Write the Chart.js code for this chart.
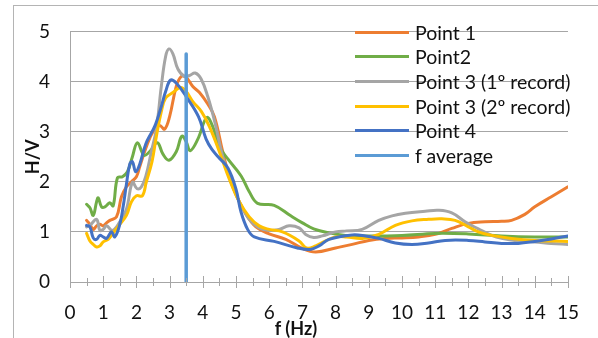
<!DOCTYPE html>
<html>
<head>
<meta charset="utf-8">
<script src="https://cdn.jsdelivr.net/npm/chart.js@4/dist/chart.umd.min.js"></script>
<style>
    body { margin: 0; background: #fff; }
    #wrap { position: relative; width: 598px; height: 338px; overflow: hidden; font-family: 'Lato', sans-serif; }
    #frame { position: absolute; left: 13px; top: 5px; width: 700px; height: 400px; border-left: 1px solid #b4b4b4; border-top: 1px solid #b4b4b4; }
    #hv { position: absolute; left: 0; top: 0; }
    #legend { position: absolute; left: 355px; top: 20px; }
    .row { height: 24.6px; display: flex; align-items: center; }
    .swatch { width: 54px; height: 3px; margin-right: 6px; }
    .label { font-size: 19.5px; color: #111; white-space: nowrap; }
    #xtitle { position: absolute; left: 296px; top: 328px; transform: translate(-50%, -50%); font-size: 18px; font-weight: bold; color: #111; }
</style>
</head>
<body>
<div id="wrap">
    <div id="frame"></div>
    <canvas id="hv" width="598" height="338"></canvas>
    <div id="legend"></div>
    <div id="xtitle">f (Hz)</div>
</div>
<script>
// Series: [f, H/V]
const point1 = [
    [0.5, 1.23], [0.6, 1.15], [0.7, 1.05], [0.8, 1.12], [0.9, 1.15], [1.0, 1.12], [1.1, 1.18], [1.2, 1.23],
    [1.4, 1.3], [1.55, 1.7], [1.7, 1.9], [1.85, 2.0], [2.0, 2.1], [2.1, 2.3], [2.3, 2.7], [2.5, 3.0],
    [2.7, 3.12], [2.85, 3.05], [3.0, 3.3], [3.2, 3.9], [3.35, 4.1], [3.5, 4.08], [3.7, 3.9], [3.9, 3.78],
    [4.15, 3.55], [4.35, 3.3], [4.6, 2.6], [4.8, 2.1], [5.0, 1.75], [5.3, 1.35], [5.6, 1.1], [6.0, 0.96],
    [6.5, 0.85], [7.0, 0.67], [7.4, 0.6], [8.0, 0.68], [8.5, 0.75], [9.0, 0.83], [9.5, 0.87], [10.0, 0.88],
    [10.5, 0.9], [11.0, 0.95], [11.5, 1.07], [12.0, 1.17], [12.5, 1.2], [13.0, 1.21], [13.3, 1.23],
    [13.7, 1.35], [14.0, 1.5], [14.5, 1.7], [15.0, 1.9]
];
const point2 = [
    [0.5, 1.55], [0.6, 1.48], [0.7, 1.33], [0.8, 1.6], [0.85, 1.68], [0.95, 1.5], [1.05, 1.5], [1.2, 1.58],
    [1.3, 1.52], [1.43, 2.08], [1.58, 2.1], [1.73, 2.2], [1.88, 2.5], [2.03, 2.78], [2.23, 2.53], [2.4, 2.6],
    [2.63, 2.78], [2.8, 2.55], [2.98, 2.43], [3.2, 2.6], [3.37, 2.91], [3.5, 2.8], [3.62, 2.62], [3.85, 2.85],
    [4.12, 3.28], [4.3, 3.1], [4.5, 2.7], [4.76, 2.45], [5.15, 2.12], [5.4, 1.8], [5.65, 1.57], [6.15, 1.53],
    [6.65, 1.32], [7.0, 1.18], [7.34, 1.06], [7.8, 0.98], [8.3, 0.93], [9.0, 0.92], [10.0, 0.93], [11.0, 0.97],
    [12.0, 0.96], [13.0, 0.92], [14.0, 0.9], [15.0, 0.9]
];
const point3a = [
    [0.5, 1.1], [0.6, 1.13], [0.8, 1.25], [0.9, 1.03], [1.0, 1.05], [1.1, 1.12], [1.28, 1.03], [1.5, 1.2],
    [1.7, 1.45], [1.88, 1.99], [2.02, 1.86], [2.15, 1.9], [2.28, 2.1], [2.45, 2.6], [2.6, 3.05], [2.75, 3.9],
    [2.88, 4.5], [2.98, 4.65], [3.1, 4.55], [3.25, 4.25], [3.45, 4.1], [3.6, 4.12], [3.77, 4.17], [3.95, 4.05],
    [4.15, 3.7], [4.37, 3.17], [4.6, 2.5], [4.85, 2.0], [5.1, 1.6], [5.4, 1.25], [5.7, 1.08], [6.0, 1.03],
    [6.3, 1.05], [6.6, 1.12], [6.9, 1.08], [7.1, 0.95], [7.34, 0.89], [7.6, 0.92], [8.0, 1.0], [8.33, 1.02],
    [8.8, 1.05], [9.3, 1.23], [9.7, 1.32], [10.1, 1.37], [10.7, 1.41], [11.1, 1.43], [11.5, 1.38], [11.9, 1.2],
    [12.3, 1.06], [12.7, 0.93], [13.0, 0.87], [13.5, 0.82], [14.0, 0.8], [14.5, 0.77], [15.0, 0.75]
];
const point3b = [
    [0.5, 0.97], [0.6, 0.82], [0.7, 0.75], [0.8, 0.7], [0.9, 0.72], [1.0, 0.8], [1.15, 0.85], [1.28, 0.96],
    [1.5, 1.15], [1.7, 1.33], [1.85, 1.6], [2.0, 1.72], [2.18, 1.72], [2.3, 2.0], [2.47, 2.4], [2.6, 2.9],
    [2.75, 3.4], [2.88, 3.67], [3.1, 3.78], [3.33, 3.88], [3.5, 3.8], [3.7, 3.6], [3.96, 3.4], [4.2, 3.1],
    [4.5, 2.6], [4.8, 2.05], [5.1, 1.6], [5.4, 1.3], [5.7, 1.12], [6.0, 1.05], [6.4, 1.0], [6.9, 0.82],
    [7.12, 0.68], [7.4, 0.72], [7.7, 0.82], [8.0, 0.9], [8.33, 0.9], [8.8, 0.87], [9.3, 0.95], [9.8, 1.13],
    [10.3, 1.22], [10.8, 1.25], [11.2, 1.26], [11.6, 1.23], [12.0, 1.1], [12.3, 1.0], [12.7, 0.93],
    [13.3, 0.87], [14.0, 0.83], [15.0, 0.81]
];
const point4 = [
    [0.5, 1.13], [0.6, 1.1], [0.7, 0.88], [0.8, 0.85], [0.9, 0.93], [1.0, 0.9], [1.1, 0.87], [1.25, 1.0],
    [1.35, 0.9], [1.5, 1.15], [1.6, 1.5], [1.7, 1.95], [1.8, 2.35], [1.88, 2.4], [1.98, 2.2], [2.1, 2.35],
    [2.28, 2.75], [2.47, 3.0], [2.58, 3.15], [2.75, 3.5], [2.88, 3.8], [3.03, 4.03], [3.2, 3.97], [3.5, 3.7],
    [3.87, 3.3], [4.1, 2.85], [4.27, 2.65], [4.46, 2.5], [4.76, 2.27], [5.0, 1.85], [5.15, 1.4], [5.35, 1.05],
    [5.55, 0.9], [6.15, 0.81], [6.85, 0.68], [7.23, 0.65], [7.5, 0.72], [7.8, 0.85], [8.5, 0.94], [8.9, 0.92],
    [9.3, 0.87], [9.8, 0.78], [10.3, 0.75], [10.8, 0.78], [11.3, 0.83], [12.0, 0.83], [12.5, 0.8], [13.0, 0.77],
    [13.5, 0.77], [14.0, 0.81], [14.5, 0.86], [15.0, 0.92]
];
const fAverage = [[3.5, 0], [3.5, 4.55]];

const seriesNames = ['Point 1', 'Point2', 'Point 3 (1º record)', 'Point 3 (2º record)', 'Point 4', 'f average'];
const seriesColors = ['#ED7D31', '#70AD47', '#A5A5A5', '#FFC000', '#4472C4', '#5B9BD5'];
const yTicks = [0, 1, 2, 3, 4, 5];
const xTicks = [0, 1, 2, 3, 4, 5, 6, 7, 8, 9, 10, 11, 12, 13, 14, 15];

document.addEventListener('DOMContentLoaded', () => {
    const ctx = document.getElementById('hv').getContext('2d');
    const allSeries = [point1, point2, point3a, point3b, point4, fAverage];

    // Excel style crossing tick marks on the f axis (every 0.5)
    const crossTicks = {
        id: 'crossTicks',
        afterDatasetsDraw(chart) {
            const xs = chart.scales.x;
            const y0 = chart.scales.y.getPixelForValue(0);
            const c = chart.ctx;
            c.save();
            c.strokeStyle = '#a6a6a6';
            c.lineWidth = 1;
            for (let v = 0; v <= 15; v += 0.5) {
                const px = Math.round(xs.getPixelForValue(v)) + 0.5;
                const h = Number.isInteger(v) ? 6 : 4;
                c.beginPath();
                c.moveTo(px, y0 - h);
                c.lineTo(px, y0 + h);
                c.stroke();
            }
            c.restore();
        }
    };

    Chart.defaults.font.family = 'Lato';
    Chart.defaults.color = '#111';

    new Chart(ctx, {
        type: 'line',
        data: {
            datasets: allSeries.map((s, i) => ({
                label: seriesNames[i],
                data: s.map(p => ({ x: p[0], y: p[1] })),
                borderColor: seriesColors[i],
                backgroundColor: seriesColors[i],
                borderWidth: i === 5 ? 3.5 : 3,
                pointRadius: 0,
                tension: i === 5 ? 0 : 0.4,
                borderCapStyle: 'round',
                order: 6 - i
            }))
        },
        options: {
            responsive: false,
            animation: false,
            layout: { padding: { left: 14, top: 21, right: 24, bottom: 0 } },
            plugins: {
                legend: { display: false },
                tooltip: { enabled: false }
            },
            scales: {
                x: {
                    type: 'linear',
                    min: 0,
                    max: 15,
                    afterBuildTicks: (scale) => { scale.ticks = xTicks.map(v => ({ value: v })); },
                    afterFit: (scale) => { scale.height = 56; },
                    grid: { display: false, drawTicks: false },
                    border: { display: true, color: '#a6a6a6', width: 1 },
                    ticks: { padding: 19, font: { size: 19 }, maxRotation: 0 }
                },
                y: {
                    min: 0,
                    max: 5,
                    afterBuildTicks: (scale) => { scale.ticks = yTicks.map(v => ({ value: v })); },
                    afterFit: (scale) => { scale.width = 56; },
                    grid: { color: '#a6a6a6', drawTicks: false },
                    border: { display: true, color: '#a6a6a6', width: 1 },
                    ticks: { padding: 20, font: { size: 19 } },
                    title: {
                        display: true,
                        text: 'H/V',
                        font: { size: 18, weight: 'bold' },
                        padding: { top: 8, bottom: 0 }
                    }
                }
            }
        },
        plugins: [crossTicks]
    });

    // Legend drawn over the plot like the original
    const legend = document.getElementById('legend');
    seriesNames.forEach((name, i) => {
        const row = document.createElement('div');
        row.className = 'row';
        row.innerHTML = `<div class="swatch" style="background:${seriesColors[i]}"></div><span class="label">${name}</span>`;
        legend.appendChild(row);
    });
});
</script>
</body>
</html>
